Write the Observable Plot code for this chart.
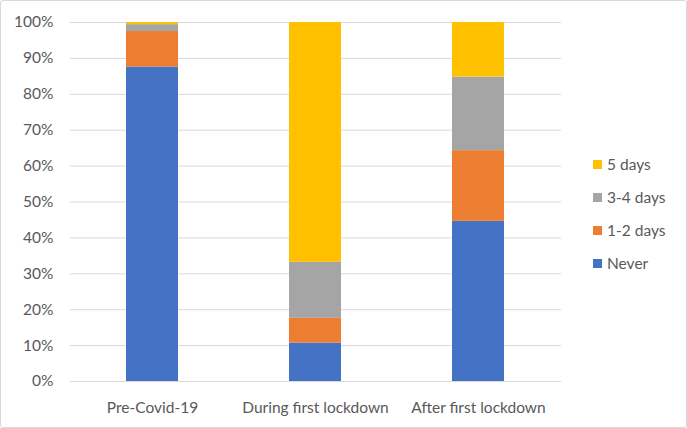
<!DOCTYPE html>
<html>
<head>
<meta charset="utf-8">
<script src="https://cdn.jsdelivr.net/npm/d3@7"></script>
<script src="https://cdn.jsdelivr.net/npm/@observablehq/plot@0.6"></script>
<style>
  html, body { margin: 0; padding: 0; background: #fff; }
  #wrap { position: relative; width: 687px; height: 428px; overflow: hidden; font-family: Lato, "Open Sans", sans-serif; }
  #frame { position: absolute; left: 0; top: 0; width: 685px; height: 426px; border: 1px solid #d9d9d9; border-radius: 3px; pointer-events: none; }
  #legend { position: absolute; left: 593px; top: 154px; color: #595959; font-size: 15.5px; }
  #legend .item { display: flex; align-items: center; height: 20px; margin-bottom: 13px; }
  #legend .sw { width: 9px; height: 9px; margin-right: 5px; }
</style>
</head>
<body>
<div id="wrap"><div id="chart"></div><div id="legend"></div><div id="frame"></div></div>
<script>
const categories = ["Pre-Covid-19", "During first lockdown", "After first lockdown"];
const series = ["Never", "1-2 days", "3-4 days", "5 days"];
const colors = ["#4472C4", "#ED7D31", "#A5A5A5", "#FFC000"];
const never   = [0.876, 0.107, 0.446];
const days12  = [0.099, 0.069, 0.197];
const days34  = [0.019, 0.156, 0.205];
const days5   = [0.006, 0.668, 0.152];
const yTicks = d3.range(0, 1.0001, 0.1);

const valuesBySeries = [never, days12, days34, days5];
const data = [];
series.forEach((s, i) => categories.forEach((c, j) => data.push({category: c, series: s, value: valuesBySeries[i][j]})));

const chart = Plot.plot({
  width: 687,
  height: 428,
  marginLeft: 70,
  marginRight: 126,
  marginTop: 22,
  marginBottom: 47,
  style: {fontFamily: "Lato, 'Open Sans', sans-serif", fontSize: "15.5px", color: "#595959", background: "transparent"},
  x: {domain: categories, paddingInner: 0.68, paddingOuter: 0.34, label: null, tickSize: 0, tickPadding: 20},
  y: {domain: [0, 1], ticks: yTicks, tickFormat: d3.format(".0%"), label: null, tickSize: 0, tickPadding: 17},
  color: {domain: series, range: colors},
  marks: [
    Plot.gridY(yTicks, {stroke: "#d9d9d9", strokeOpacity: 1, strokeWidth: 1}),
    Plot.barY(data, {x: "category", y: "value", fill: "series", order: series})
  ]
});
document.getElementById("chart").appendChild(chart);

const legend = document.getElementById("legend");
[...series].reverse().forEach(s => {
  const item = document.createElement("div");
  item.className = "item";
  const sw = document.createElement("div");
  sw.className = "sw";
  sw.style.background = colors[series.indexOf(s)];
  const t = document.createElement("span");
  t.textContent = s;
  item.appendChild(sw); item.appendChild(t);
  legend.appendChild(item);
});
</script>
</body>
</html>
